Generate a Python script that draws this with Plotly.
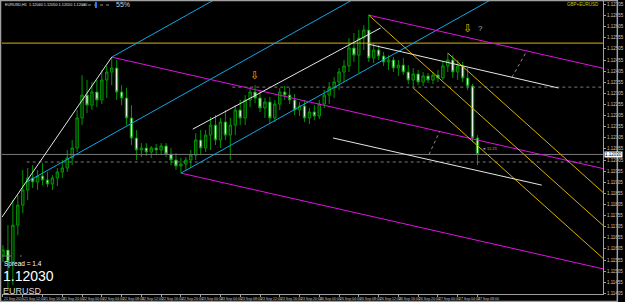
import plotly.graph_objects as go

# ---------------- data ----------------
bars = list(range(97))
open_p = [1.11578, 1.11600, 1.11546, 1.11712, 1.11802, 1.11870, 1.11924, 1.11906, 1.11933, 1.11915,
          1.11897, 1.11924, 1.11951, 1.11969, 1.12014, 1.12059, 1.12194, 1.12297, 1.12252, 1.12311,
          1.12275, 1.12365, 1.12401, 1.12419, 1.12311, 1.12284, 1.12194, 1.12104, 1.12050, 1.12059,
          1.12041, 1.12059, 1.12050, 1.12068, 1.12032, 1.12005, 1.11978, 1.11987, 1.12005, 1.12027,
          1.12095, 1.12059, 1.12117, 1.12162, 1.12095, 1.12176, 1.12117, 1.12162, 1.12230, 1.12194,
          1.12275, 1.12311, 1.12284, 1.12239, 1.12266, 1.12194, 1.12257, 1.12311, 1.12297, 1.12275,
          1.12230, 1.12248, 1.12194, 1.12221, 1.12203, 1.12257, 1.12297, 1.12329, 1.12356, 1.12401,
          1.12428, 1.12509, 1.12477, 1.12554, 1.12590, 1.12464, 1.12500, 1.12473, 1.12446, 1.12455,
          1.12419, 1.12432, 1.12401, 1.12365, 1.12392, 1.12356, 1.12383, 1.12365, 1.12387, 1.12374,
          1.12428, 1.12455, 1.12401, 1.12428, 1.12374, 1.12338, 1.12104]
high_p = [1.11622, 1.11712, 1.11825, 1.11847, 1.11960, 1.11969, 1.11982, 1.11960, 1.11991, 1.11951,
          1.11937, 1.11969, 1.12005, 1.12050, 1.12095, 1.12230, 1.12387, 1.12365, 1.12356, 1.12365,
          1.12410, 1.12428, 1.12468, 1.12455, 1.12342, 1.12329, 1.12252, 1.12140, 1.12081, 1.12081,
          1.12068, 1.12077, 1.12081, 1.12081, 1.12059, 1.12036, 1.12014, 1.12018, 1.12050, 1.12126,
          1.12140, 1.12140, 1.12198, 1.12207, 1.12194, 1.12230, 1.12194, 1.12252, 1.12275, 1.12297,
          1.12333, 1.12342, 1.12320, 1.12284, 1.12288, 1.12275, 1.12329, 1.12338, 1.12329, 1.12302,
          1.12266, 1.12275, 1.12239, 1.12252, 1.12275, 1.12320, 1.12356, 1.12378, 1.12419, 1.12455,
          1.12554, 1.12576, 1.12590, 1.12612, 1.12657, 1.12531, 1.12522, 1.12491, 1.12477, 1.12468,
          1.12455, 1.12464, 1.12432, 1.12419, 1.12410, 1.12401, 1.12396, 1.12401, 1.12410, 1.12446,
          1.12486, 1.12477, 1.12455, 1.12446, 1.12419, 1.12347, 1.12117]
low_p = [1.11546, 1.11420, 1.11442, 1.11667, 1.11766, 1.11825, 1.11879, 1.11870, 1.11892, 1.11883,
         1.11870, 1.11888, 1.11924, 1.11951, 1.11982, 1.12041, 1.12162, 1.12216, 1.12230, 1.12243,
         1.12257, 1.12284, 1.12342, 1.12275, 1.12252, 1.12162, 1.12072, 1.12005, 1.12018, 1.12023,
         1.12014, 1.12027, 1.12027, 1.12018, 1.11982, 1.11960, 1.11946, 1.11960, 1.11969, 1.12005,
         1.12027, 1.12041, 1.12050, 1.12072, 1.12059, 1.12095, 1.12005, 1.12117, 1.12162, 1.12162,
         1.12243, 1.12261, 1.12221, 1.12194, 1.12171, 1.12176, 1.12230, 1.12275, 1.12257, 1.12207,
         1.12203, 1.12176, 1.12167, 1.12185, 1.12189, 1.12239, 1.12257, 1.12284, 1.12320, 1.12356,
         1.12401, 1.12446, 1.12396, 1.12500, 1.12446, 1.12441, 1.12455, 1.12428, 1.12410, 1.12401,
         1.12383, 1.12387, 1.12347, 1.12329, 1.12342, 1.12338, 1.12351, 1.12347, 1.12356, 1.12365,
         1.12401, 1.12374, 1.12365, 1.12356, 1.12320, 1.12086, 1.11982]
close_p = [1.11600, 1.11546, 1.11712, 1.11802, 1.11870, 1.11924, 1.11906, 1.11933, 1.11915, 1.11897,
           1.11924, 1.11951, 1.11969, 1.12014, 1.12059, 1.12194, 1.12297, 1.12252, 1.12311, 1.12275,
           1.12365, 1.12401, 1.12419, 1.12311, 1.12284, 1.12194, 1.12104, 1.12050, 1.12059, 1.12041,
           1.12059, 1.12050, 1.12068, 1.12032, 1.12005, 1.11978, 1.11987, 1.12005, 1.12027, 1.12095,
           1.12059, 1.12117, 1.12162, 1.12095, 1.12176, 1.12117, 1.12162, 1.12230, 1.12194, 1.12275,
           1.12311, 1.12284, 1.12239, 1.12266, 1.12194, 1.12257, 1.12311, 1.12297, 1.12275, 1.12230,
           1.12248, 1.12194, 1.12221, 1.12203, 1.12257, 1.12297, 1.12329, 1.12356, 1.12401, 1.12428,
           1.12509, 1.12477, 1.12554, 1.12590, 1.12464, 1.12500, 1.12473, 1.12446, 1.12455, 1.12419,
           1.12432, 1.12401, 1.12365, 1.12392, 1.12356, 1.12383, 1.12365, 1.12387, 1.12374, 1.12428,
           1.12455, 1.12401, 1.12428, 1.12374, 1.12338, 1.12104, 1.12030]

time_label_bars = [0, 4, 8, 12, 16, 20, 24, 28, 32, 36, 40, 44, 48, 52, 56, 60, 64, 68, 72, 76, 80, 84, 88, 92, 96]
time_labels = ["21 Sep 2016", "21 Sep 12:00", "21 Sep 16:00", "21 Sep 20:00",
               "22 Sep 00:00", "22 Sep 04:00", "22 Sep 08:00", "22 Sep 12:00", "22 Sep 16:00", "22 Sep 20:00",
               "23 Sep 00:00", "23 Sep 04:00", "23 Sep 08:00", "23 Sep 12:00", "23 Sep 16:00", "23 Sep 20:00",
               "26 Sep 00:00", "26 Sep 04:00", "26 Sep 08:00", "26 Sep 12:00", "26 Sep 16:00", "26 Sep 20:00",
               "27 Sep 00:00", "27 Sep 04:00", "27 Sep 08:00"]

price_ticks = [1.11405, 1.11455, 1.11505, 1.11555, 1.11605, 1.11655, 1.11705, 1.11755, 1.11805,
               1.11855, 1.11905, 1.11955, 1.12005, 1.12055, 1.12105, 1.12155, 1.12205, 1.12255,
               1.12305, 1.12355, 1.12405, 1.12455, 1.12505, 1.12555, 1.12605, 1.12655, 1.12705]

# pitchfork anchors (bar, price)
cyan_fork_bars = [4.8, 22, 36]
cyan_fork_prices = [1.11906, 1.12468, 1.11946]
magenta_fork_bars = [22, 36, 74]
magenta_fork_prices = [1.12468, 1.11946, 1.12657]
yellow_fork_bars = [74, 83, 90]
yellow_fork_prices = [1.12657, 1.12329, 1.12486]

# white trend lines
white_start_bars = [-0.2, 38.4, 73.8, 66.8]
white_start_prices = [1.11748, 1.12144, 1.12527, 1.12104]
white_end_bars = [22, 76.4, 112.4, 109]
white_end_prices = [1.12468, 1.12599, 1.12329, 1.11892]

gold_level = 1.12531
bid_price = 1.12030
dotted_levels = [1.11996, 1.12333]
dotted_level_start = [4.8, 46.4]
short_dash_level = 1.11573
connector_bars = [[103, 106], [86.2, 88.4]]
connector_prices = [[1.12378, 1.12496], [1.12030, 1.12136]]

# ---------------- layout geometry ----------------
W, H = 625, 302
ML, MR, MT, MB = 2, 15, 1, 8
X_RANGE = [-0.2, 121.4]
Y_RANGE = [1.11402, 1.127205]
X_END = 125

FONT = "Liberation Sans, Arial, sans-serif"

fig = go.Figure()

fig.add_trace(go.Candlestick(
    x=bars, open=open_p, high=high_p, low=low_p, close=close_p,
    increasing=dict(line=dict(color="#009600", width=1), fillcolor="#002a00"),
    decreasing=dict(line=dict(color="#009600", width=1), fillcolor="#e8f0e8"),
    whiskerwidth=0, showlegend=False, hoverinfo="skip"))


def seg(x0, y0, x1, y1, color, dash="solid", width=1):
    fig.add_trace(go.Scatter(x=[x0, x1], y=[y0, y1], mode="lines",
                             line=dict(color=color, width=width, dash=dash),
                             showlegend=False, hoverinfo="skip"))


def pitchfork(xs, ys, color):
    mx = (xs[1] + xs[2]) / 2
    my = (ys[1] + ys[2]) / 2
    s = (my - ys[0]) / (mx - xs[0])
    for x0, y0 in zip(xs, ys):
        seg(x0, y0, X_END, y0 + s * (X_END - x0), color)


# horizontal levels
seg(X_RANGE[0], bid_price, X_END, bid_price, "#7a7a7a")
for lv, st in zip(dotted_levels, dotted_level_start):
    seg(st, lv, X_END, lv, "#7a7a7a", dash="dot")
seg(X_RANGE[0], short_dash_level, 3.8, short_dash_level, "#7a7a7a", dash="dash")
seg(X_RANGE[0], gold_level, X_END, gold_level, "#e0b000")

pitchfork(cyan_fork_bars, cyan_fork_prices, "#12a6e6")
pitchfork(magenta_fork_bars, magenta_fork_prices, "#e010e0")
pitchfork(yellow_fork_bars, yellow_fork_prices, "#d8b000")

for x0, y0, x1, y1 in zip(white_start_bars, white_start_prices, white_end_bars, white_end_prices):
    seg(x0, y0, x1, y1, "#e6e6e6")

for xs, ys in zip(connector_bars, connector_prices):
    seg(xs[0], ys[0], xs[1], ys[1], "#8a8a8a", dash="dot")

ann = []
pw = W - ML - MR
ph = H - MT - MB


def px_paper(px, py):
    return (px - ML) / pw, (H - MB - py) / ph


# time axis labels
for b, t in zip(time_label_bars, time_labels):
    ann.append(dict(x=b, y=0, xref="x", yref="paper", text=t, showarrow=False,
                    xanchor="left", yanchor="top", xshift=-1, yshift=-1,
                    font=dict(family=FONT, size=3.5, color="#c8c8c8")))

# bid label on price axis
ann.append(dict(x=1, y=bid_price, xref="paper", yref="y", text="1.12030", showarrow=False,
                xanchor="left", yanchor="middle", xshift=1, bgcolor="#ffffff",
                font=dict(family=FONT, size=4.5, color="#000000"), borderpad=0))

# arrows
ann.append(dict(x=50.8, y=1.12387, xref="x", yref="y", text="⇩", showarrow=False,
                font=dict(family="DejaVu Sans", size=11, color="#f0b400")))
ann.append(dict(x=94, y=1.12599, xref="x", yref="y", text="⇩", showarrow=False,
                font=dict(family="DejaVu Sans", size=11, color="#f0b400")))
ann.append(dict(x=95.8, y=1.12595, xref="x", yref="y", text="?", showarrow=False,
                xanchor="left", font=dict(family=FONT, size=8, color="#b0b0b0")))
ann.append(dict(x=96.6, y=1.12059, xref="x", yref="y", text="◄ 11:23", showarrow=False,
                xanchor="left", font=dict(family=FONT, size=4, color="#a0a0a0")))

# header texts
x, y = px_paper(3, 5)
ann.append(dict(x=x, y=y, xref="paper", yref="paper", text="EURUSD,H1  1.12040 1.12050 1.12010 1.12030",
                showarrow=False, xanchor="left", yanchor="middle",
                font=dict(family=FONT, size=3.8, color="#e0e0e0")))
x, y = px_paper(115, 5)
ann.append(dict(x=x, y=y, xref="paper", yref="paper", text="55%",
                showarrow=False, xanchor="left", yanchor="middle",
                font=dict(family=FONT, size=7, color="#d0d0d0")))
x, y = px_paper(608, 5)
ann.append(dict(x=x, y=y, xref="paper", yref="paper", text="GBP+EURUSD",
                showarrow=False, xanchor="right", yanchor="middle",
                font=dict(family=FONT, size=4.5, color="#c8c800")))

# bottom-left info
x, y = px_paper(3, 264)
ann.append(dict(x=x, y=y, xref="paper", yref="paper", text="Spread = 1.4",
                showarrow=False, xanchor="left", yanchor="middle", borderpad=0,
                font=dict(family=FONT, size=6.5, color="#ffffff")))
x, y = px_paper(2, 275.5)
ann.append(dict(x=x, y=y, xref="paper", yref="paper", text="1.12030",
                showarrow=False, xanchor="left", yanchor="middle", borderpad=0,
                font=dict(family=FONT, size=14, color="#ffffff")))
x, y = px_paper(2, 290.5)
ann.append(dict(x=x, y=y, xref="paper", yref="paper", text="EURUSD",
                showarrow=False, xanchor="left", yanchor="middle", borderpad=0,
                font=dict(family=FONT, size=9, color="#d8d8d8")))

# outer frame + strength meter
shapes = [dict(type="rect", xref="paper", yref="paper",
               x0=-(ML - 0.5) / pw, x1=1 + (MR - 0.5) / pw,
               y0=-(MB - 0.5) / ph, y1=1 + (MT - 0.5) / ph,
               line=dict(color="#a0a0a0", width=1.5), fillcolor="rgba(0,0,0,0)")]
mx0, my0 = px_paper(83, 5)
mx1, _ = px_paper(112, 5)
shapes.append(dict(type="line", xref="paper", yref="paper", x0=mx0, x1=mx1, y0=my0, y1=my0,
                   line=dict(color="#909090", width=1, dash="dot")))
bx0, by0 = px_paper(96, 8)
bx1, by1 = px_paper(98, 2)
shapes.append(dict(type="rect", xref="paper", yref="paper", x0=bx0, x1=bx1, y0=by0, y1=by1,
                   line=dict(width=0), fillcolor="#2080ff"))

fig.update_layout(
    width=W, height=H,
    margin=dict(l=ML, r=MR, t=MT, b=MB, pad=0),
    paper_bgcolor="#000000", plot_bgcolor="#000000",
    showlegend=False,
    annotations=ann, shapes=shapes,
    xaxis=dict(range=X_RANGE, showgrid=False, zeroline=False, rangeslider=dict(visible=False),
               tickvals=time_label_bars, showticklabels=False, ticks="outside", ticklen=2,
               tickcolor="#a0a0a0", showline=True, linecolor="#a0a0a0", linewidth=1),
    yaxis=dict(range=Y_RANGE, side="right", showgrid=False, zeroline=False,
               tickvals=price_ticks, ticktext=[f"{v:.5f}" for v in price_ticks],
               ticks="outside", ticklen=2, tickcolor="#a0a0a0",
               tickfont=dict(family=FONT, size=4.5, color="#c8c8c8"),
               showline=True, linecolor="#a0a0a0", linewidth=1),
)

fig.write_html("out.html")
